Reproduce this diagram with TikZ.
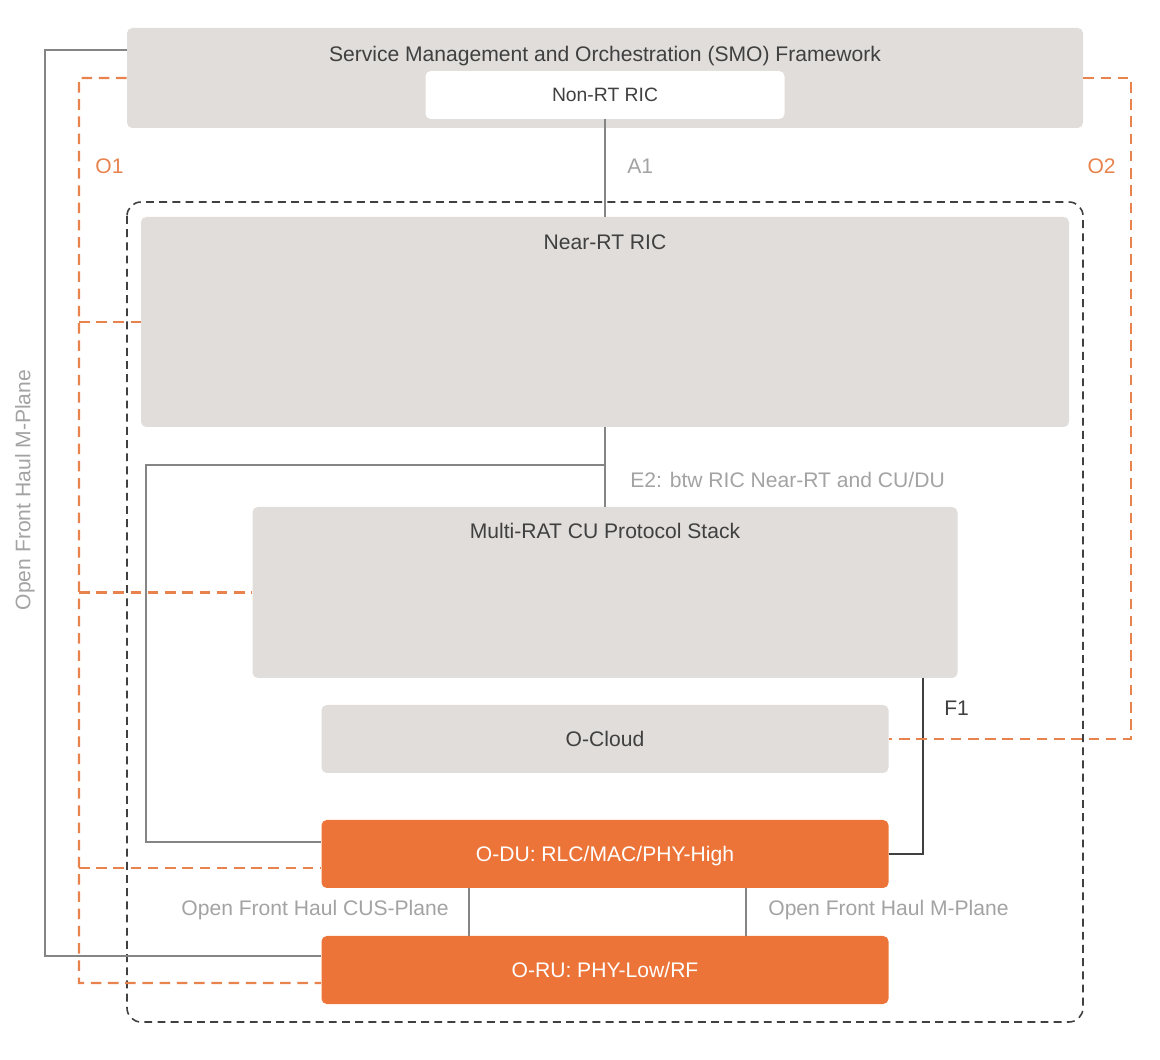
\documentclass[tikz,border=0pt]{standalone}
\usepackage{fontspec}
\setmainfont{Liberation Sans}
\usetikzlibrary{positioning}
\definecolor{boxgray}{HTML}{E0DDDA}
\definecolor{ranorange}{HTML}{EC7438}
\definecolor{dashorange}{HTML}{E8834E}
\definecolor{linegray}{HTML}{858585}
\definecolor{labelgray}{HTML}{A3A3A3}
\definecolor{textdark}{HTML}{404040}
\begin{document}
\begin{tikzpicture}[font=\fontsize{12}{14}\selectfont,
    box/.style={fill=boxgray,rounded corners=3pt,inner sep=0pt},
    ranbox/.style={fill=ranorange,rounded corners=3pt,inner sep=0pt,text=white,minimum width=11.34cm,minimum height=1.36cm,text depth=0.5pt},
    title/.style={text=textdark,anchor=north,inner sep=0pt},
    link/.style={draw=linegray,line width=0.9pt},
    oam/.style={draw=dashorange,line width=1.25pt,dash pattern=on 6pt off 3.8pt},
    lbl/.style={text=labelgray,inner sep=0pt}]
  \useasboundingbox (0,0) rectangle (23.2,-21.2);
  % boxes
  \node[box,minimum width=19.12cm,minimum height=2cm] (smo) at (12.1,-1.56) {};
  \node[title] at (12.1,-0.91) {Service Management and Orchestration (SMO) Framework};
  \node[fill=white,rounded corners=3pt,minimum width=7.18cm,minimum height=0.96cm,text=textdark,font=\fontsize{11}{13}\selectfont] (nonrt) at (12.1,-1.9) {Non-RT RIC};
  \draw[draw=textdark,line width=0.9pt,dash pattern=on 4.5pt off 3pt,rounded corners=8pt] (2.54,-4.04) rectangle (21.66,-20.44);
  \node[box,minimum width=18.56cm,minimum height=4.2cm] (nearrt) at (12.1,-6.44) {};
  \node[title] at (12.1,-4.68) {Near-RT RIC};
  \node[box,minimum width=14.1cm,minimum height=3.42cm] (cu) at (12.1,-11.85) {};
  \node[title] at (12.1,-10.46) {Multi-RAT CU Protocol Stack};
  \node[box,minimum width=11.34cm,minimum height=1.36cm,text=textdark] (ocloud) at (12.1,-14.78) {O-Cloud};
  \node[ranbox] (odu) at (12.1,-17.08) {O-DU: RLC/MAC/PHY-High};
  \node[ranbox] (oru) at (12.1,-19.4) {O-RU: PHY-Low/RF};
  % interfaces
  \draw[link] (nonrt.south) -- (nearrt.north);
  \node[lbl,anchor=west] at (12.54,-3.32) {A1};
  \draw[link] (nearrt.south) -- (cu.north);
  \draw[link] (12.1,-9.3) -| (2.92,-16.84) -- ([yshift=0.24cm]odu.west);
  \node[lbl,anchor=west] at (12.6,-9.6) {E2: btw RIC Near-RT and CU/DU};
  \draw[draw=textdark,line width=1pt] (cu.south -| 18.46,0) |- (odu.east);
  \node[text=textdark,anchor=west,inner sep=0pt] at (18.88,-14.16) {F1};
  \draw[link,line width=0.6pt] (odu.south -| 9.38,0) -- (oru.north -| 9.38,0);
  \draw[link,line width=0.6pt] (odu.south -| 14.92,0) -- (oru.north -| 14.92,0);
  \node[lbl,anchor=east] at (8.98,-18.2) {Open Front Haul CUS-Plane};
  \node[lbl,anchor=west] at (15.36,-18.2) {Open Front Haul M-Plane};
  \draw[link] ([yshift=0.56cm]smo.west) -| (0.9,-19.12) -- ([yshift=0.28cm]oru.west);
  \node[lbl,rotate=90] at (0.5,-9.8) {Open Front Haul M-Plane};
  % O1 and O2
  \draw[oam] (smo.west) -| (1.58,-19.66) -- ([yshift=-0.26cm]oru.west);
  \draw[oam] (1.58,-6.44) -- (nearrt.west);
  \draw[oam] (1.58,-11.85) -- (cu.west);
  \draw[oam] (1.58,-17.36) -- ([yshift=-0.28cm]odu.west);
  \node[text=dashorange,anchor=west,inner sep=0pt] at (1.9,-3.32) {O1};
  \draw[oam] (smo.east) -| (22.62,-14.78) -- (ocloud.east);
  \node[text=dashorange,anchor=east,inner sep=0pt] at (22.32,-3.32) {O2};
\end{tikzpicture}
\end{document}
